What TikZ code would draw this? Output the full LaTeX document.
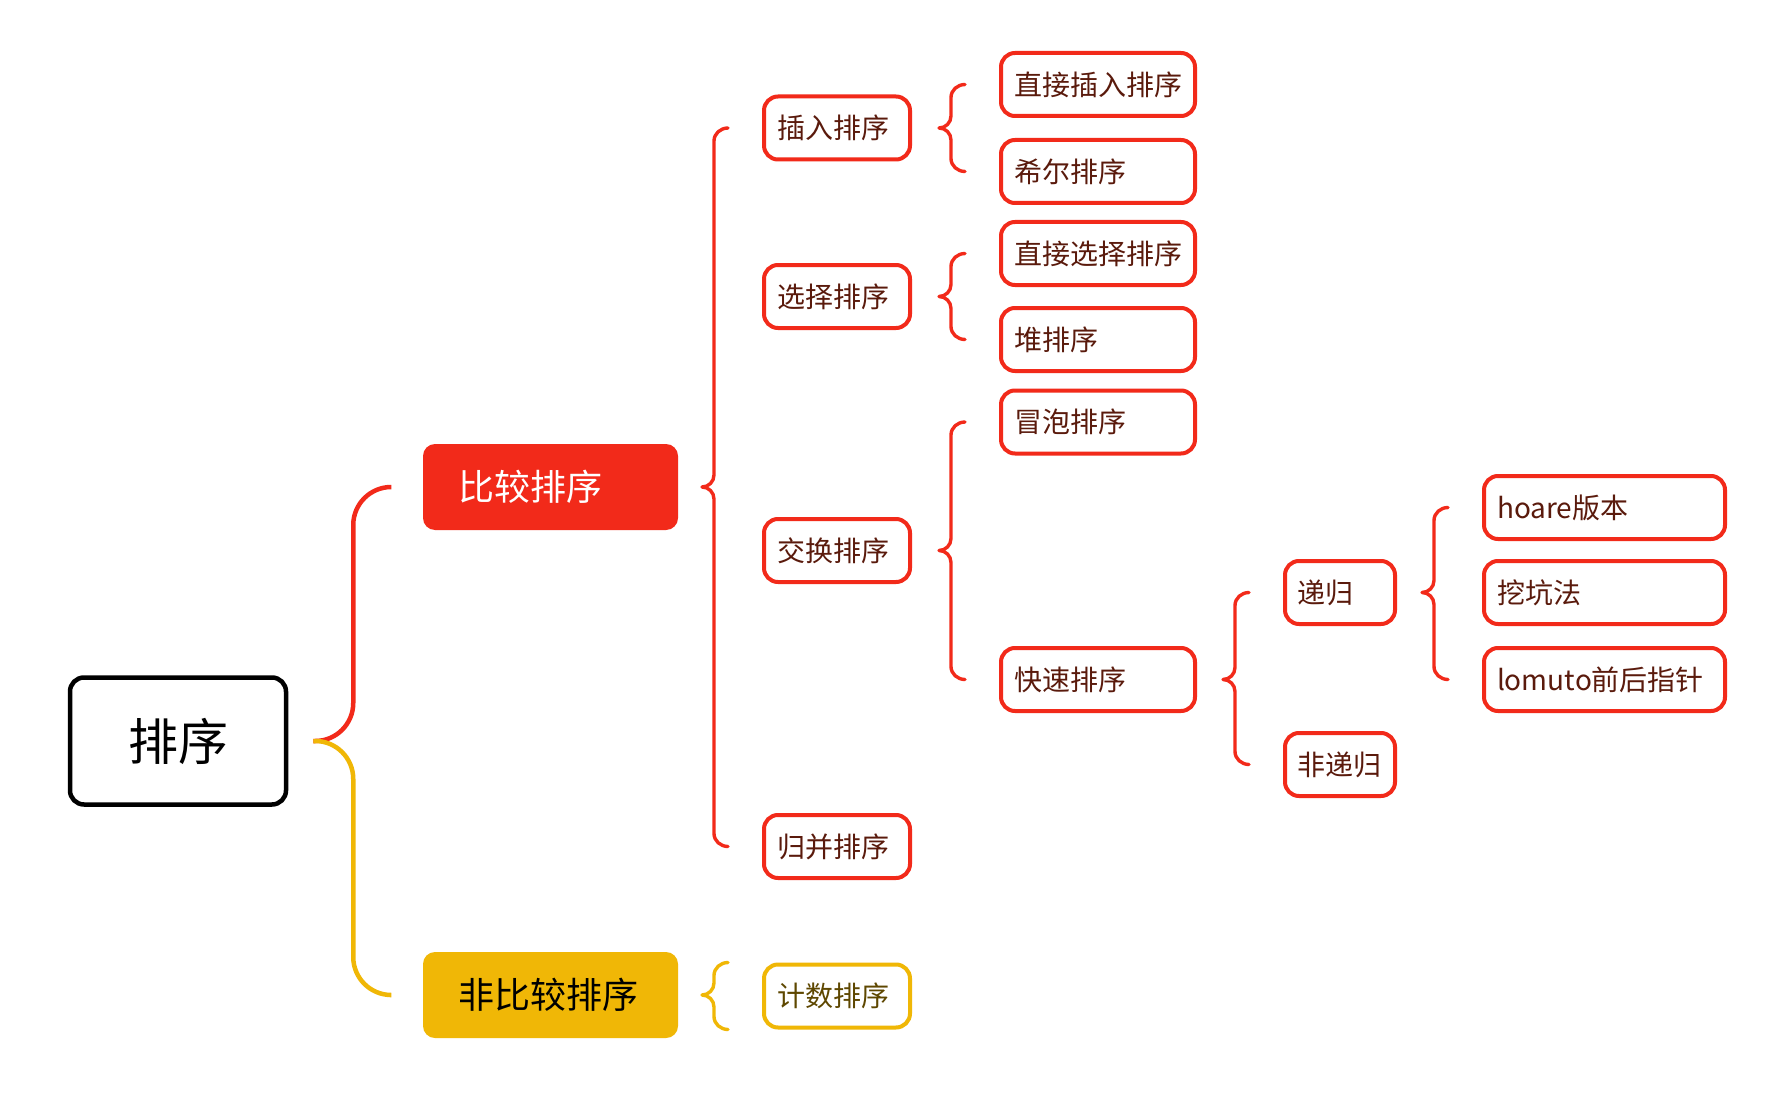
\documentclass[tikz,border=0pt]{standalone}
\usepackage{fontspec}
\setmainfont{Noto Sans CJK SC}
\usetikzlibrary{calc}
\definecolor{myred}{HTML}{F22A1A}
\definecolor{myyellow}{HTML}{F0B706}
\definecolor{txtred}{HTML}{5A1A0C}
\definecolor{txtyel}{HTML}{5E4700}
\tikzset{
 rootbox/.style={draw=black, line width=4.5pt, rounded corners=14pt, minimum width=216pt, minimum height=127pt, font=\fontsize{50}{60}\selectfont, inner sep=0pt},
 mainbox/.style={rounded corners=12pt, minimum height=86pt, inner ysep=0pt, inner xsep=35pt, text width=185pt, align=left, font=\fontsize{36}{44}\selectfont},
 subbox/.style={draw=myred, text=txtred, line width=4pt, rounded corners=14pt, minimum height=63pt, inner ysep=0pt, inner xsep=13pt, text width=#1, align=left, font=\fontsize{28}{34}\selectfont},
 brace/.style={line width=3.4pt, line cap=round, line join=round},
 link/.style={line width=4.5pt, rounded corners=38pt},
}
\newcommand\mybrace[4]{\draw[brace,#1] let \p1=#3, \p2=#4, \p3=#2 in
 (\x1-34pt,\y1) to[out=180,in=90] (\x1-48pt,\y1-13pt) -- (\x1-48pt,\y3+12pt) to[out=-90,in=0] (\x1-60pt,\y3) to[out=0,in=90] (\x1-48pt,\y3-12pt) -- (\x1-48pt,\y2+13pt) to[out=-90,in=180] (\x1-34pt,\y2);}
\begin{document}
\begin{tikzpicture}[x=1pt,y=-1pt]
\useasboundingbox[fill=white] (0,0) rectangle (1786,1094);
% nodes
\node[rootbox] (root) at (178,741) {排序};
\node[mainbox, fill=myred, text=white] (cmp) at (550.5,487) {比较排序};
\node[mainbox, fill=myyellow, text=black] (ncmp) at (550.5,995) {非比较排序};
\node[subbox=120pt] (ins) at (837,128) {插入排序};
\node[subbox=120pt] (sel) at (837,296.5) {选择排序};
\node[subbox=120pt] (swp) at (837,550.5) {交换排序};
\node[subbox=120pt] (mrg) at (837,846.5) {归并排序};
\node[subbox=120pt, draw=myyellow, text=txtyel] (cnt) at (837,996) {计数排序};
\node[subbox=168pt] (dins) at (1098,84.5) {直接插入排序};
\node[subbox=168pt] (shell) at (1098,171.5) {希尔排序};
\node[subbox=168pt] (dsel) at (1098,253.5) {直接选择排序};
\node[subbox=168pt] (heap) at (1098,339.5) {堆排序};
\node[subbox=168pt] (bub) at (1098,422) {冒泡排序};
\node[subbox=168pt] (quick) at (1098,679.5) {快速排序};
\node[subbox=86pt, inner xsep=12pt] (rec) at (1340,592.5) {递归};
\node[subbox=86pt, inner xsep=12pt] (nrec) at (1340,764.5) {非递归};
\node[subbox=215pt] (hoare) at (1604.5,507.5) {hoare版本};
\node[subbox=215pt] (dig) at (1604.5,592.5) {挖坑法};
\node[subbox=215pt] (lom) at (1604.5,679.5) {lomuto前后指针};
% root connectors
\coordinate (rs) at ([xshift=25pt]root.east);
\coordinate (cmpin) at ([xshift=-33pt]cmp.west);
\coordinate (ncmpin) at ([xshift=-33pt]ncmp.west);
\draw[link, myred] (rs) -- ++(40pt,0) |- (cmpin);
\draw[link, myyellow] (rs) -- ++(40pt,0) |- (ncmpin);
% braces
\mybrace{myred}{(cmp.east)}{(ins.west)}{(mrg.west)}
\mybrace{myyellow}{(ncmp.east)}{(cnt.north west)}{(cnt.south west)}
\mybrace{myred}{(ins.east)}{(dins.west)}{(shell.west)}
\mybrace{myred}{(sel.east)}{(dsel.west)}{(heap.west)}
\mybrace{myred}{(swp.east)}{(bub.west)}{(quick.west)}
\mybrace{myred}{(quick.east)}{(rec.west)}{(nrec.west)}
\mybrace{myred}{(rec.east)}{(hoare.west)}{(lom.west)}
\end{tikzpicture}
\end{document}
